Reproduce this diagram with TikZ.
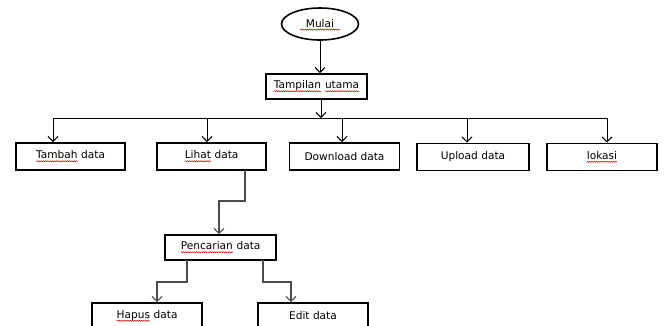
\documentclass[tikz,border=0pt]{standalone}
\usepackage{fontspec}
\setmainfont{DejaVu Sans}
\usetikzlibrary{arrows.meta,shapes.geometric,decorations.pathmorphing}
\newcommand\sqw[1]{\tikz[baseline=(w.base),x=1pt,y=1pt]{\node[inner sep=0pt,outer sep=0pt,draw=none,minimum width=0pt,minimum height=0pt](w){#1};\draw[red!85!black,line width=0.5pt,decorate,decoration={snake,amplitude=0.6pt,segment length=2.2pt}] ([yshift=-2.3pt]w.base west) -- ([yshift=-2.3pt]w.base east);}}
\tikzset{
  box/.style={draw=black,line width=1.8pt,minimum height=26pt,inner sep=0pt,font=\fontsize{10.6}{12}\selectfont},
  conn/.style={draw=black,line width=1pt},
  gconn/.style={draw=black!70,line width=1.1pt},
  arr/.style={-{Straight Barb[length=5pt,width=10pt,line width=1pt]}}
}
\begin{document}
\begin{tikzpicture}[x=1pt,y=-1pt]
\useasboundingbox (0,0) rectangle (664,325);
\node[box,ellipse,line width=1.6pt,minimum width=77pt,minimum height=32pt] (mulai) at (320,24) {\sqw{Mulai}};
\node[box,minimum width=101pt,minimum height=25pt] (tampil) at (316.5,86.5) {\sqw{Tampilan} \sqw{utama}};
\node[box,minimum width=109pt,minimum height=27pt] (tambah) at (70.5,156.5) {\sqw{Tambah} data};
\node[box,minimum width=109pt,minimum height=27pt] (lihat) at (211.5,156.5) {\sqw{Lihat} data};
\node[box,minimum width=110pt,minimum height=27pt] (download) at (344.5,156.5) {Download data};
\node[box,minimum width=112pt,minimum height=27pt] (upload) at (473,157) {Upload data};
\node[box,minimum width=110pt,minimum height=27pt] (lokasi) at (602,157) {\sqw{lokasi}};
\node[box,minimum width=111pt,minimum height=25pt] (cari) at (220.5,247.5) {\sqw{Pencarian} data};
\node[box,minimum width=110pt,minimum height=26pt] (hapus) at (147,316) {\sqw{Hapus} data};
\node[box,minimum width=110pt,minimum height=26pt] (edit) at (313,316) {Edit data};
% bus
\coordinate (b0) at (53,118);
\coordinate (b1) at (207,118);
\coordinate (b2) at (342,118);
\coordinate (b3) at (467,118);
\coordinate (b4) at (607,118);
\coordinate (bt) at (321,118);
\coordinate (t0) at (321,99);
\draw[conn,arr] (mulai.south) -- (mulai.south |- tampil.north);
\draw[conn,arr] (t0) -- (bt);
\draw[conn] (b0) -- (b4);
\draw[conn,arr] (b0) -- (b0 |- tambah.north);
\draw[conn,arr] (b1) -- (b1 |- lihat.north);
\draw[conn,arr] (b2) -- (b2 |- download.north);
\draw[conn,arr] (b3) -- (b3 |- upload.north);
\draw[conn,arr] (b4) -- (b4 |- lokasi.north);
% lihat -> pencarian
\coordinate (l0) at (245,170);
\coordinate (l1) at (245,201);
\coordinate (l2) at (219,201);
\draw[gconn,arr] (l0) -- (l1) -- (l2) -- (l2 |- cari.north);
% pencarian -> hapus / edit
\coordinate (p0) at (187,260);
\coordinate (p1) at (187,282);
\coordinate (p2) at (157,282);
\coordinate (q0) at (263,260);
\coordinate (q1) at (263,282);
\coordinate (q2) at (291,282);
\draw[gconn,arr] (p0) -- (p1) -- (p2) -- (p2 |- hapus.north);
\draw[gconn,arr] (q0) -- (q1) -- (q2) -- (q2 |- edit.north);
\end{tikzpicture}
\end{document}
